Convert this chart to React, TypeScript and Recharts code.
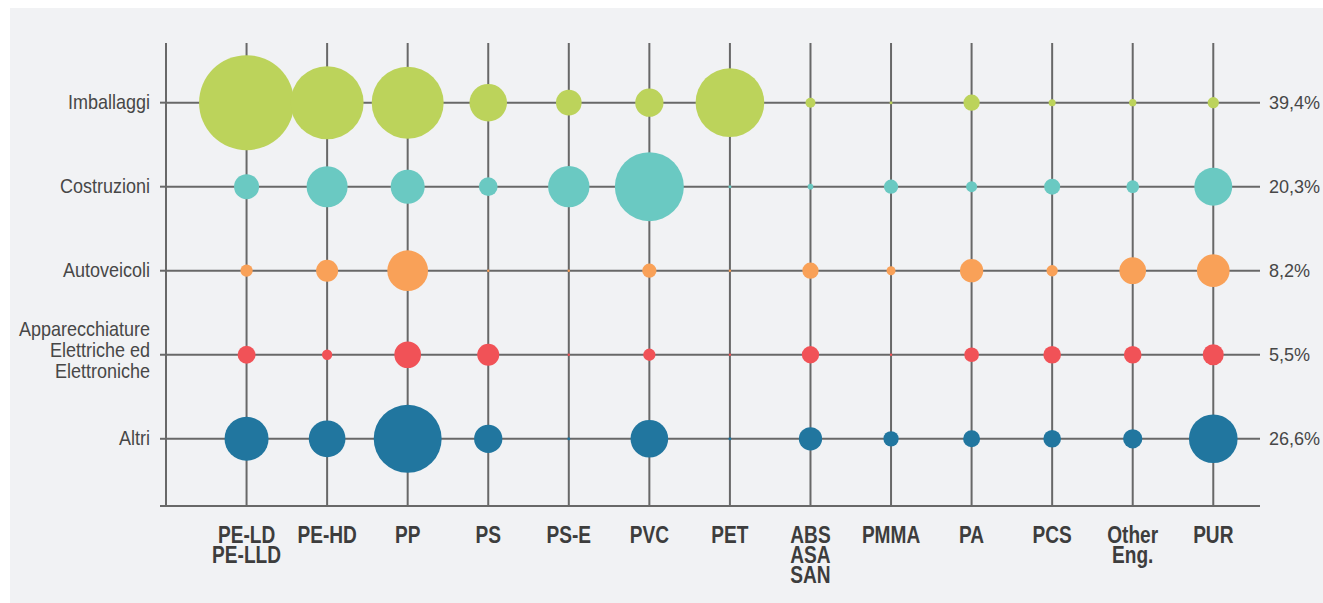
import React from 'react';
import { ScatterChart, Scatter, XAxis, YAxis, ZAxis, CartesianGrid } from 'recharts';

// Categories (plastic types) on the x axis
const materials = [
  'PE-LD\nPE-LLD', 'PE-HD', 'PP', 'PS', 'PS-E', 'PVC', 'PET',
  'ABS\nASA\nSAN', 'PMMA', 'PA', 'PCS', 'Other\nEng.', 'PUR',
];

// Sectors (rows) on the y axis, top to bottom
const sectors = [
  'Imballaggi',
  'Costruzioni',
  'Autoveicoli',
  'Apparecchiature\nElettriche ed\nElettroniche',
  'Altri',
];

// Share of each sector (right labels)
const shares = ['39,4%', '20,3%', '8,2%', '5,5%', '26,6%'];

// Relative bubble sizes (area) per sector, one value per material
const imballaggi = [90.3, 53.3, 51.8, 14.1, 6.6, 8.0, 47.2, 1.0, 0.09, 2.66, 0.49, 0.53, 1.28];
const costruzioni = [6.25, 16.8, 11.6, 3.5, 17.1, 47.6, 0.09, 0.32, 2.04, 1.21, 2.56, 1.61, 14.4];
const autoveicoli = [1.51, 4.84, 16.6, 0.06, 0.06, 2.04, 0.06, 2.66, 0.81, 5.43, 1.28, 7.13, 10.7];
const apparecchiature = [3.24, 1.06, 7.13, 4.84, 0.06, 1.51, 0.06, 2.99, 0.06, 2.16, 3.13, 3.13, 4.41];
const altri = [19.4, 13.5, 46.2, 8.0, 0.09, 14.2, 0.09, 5.43, 2.34, 2.89, 3.13, 3.72, 23.7];

const sectorValues = [imballaggi, costruzioni, autoveicoli, apparecchiature, altri];
const colors = ['#bcd35b', '#6ac9c2', '#f9a158', '#f15257', '#21769f'];

const FONT = '"Liberation Sans", Arial, sans-serif';
const GRID = '#686868';

const levelOf = (i: number) => sectors.length - i;
const xTicks = materials.map((_, i) => i + 1);
const yTicks = [0.2, ...sectors.map((_, i) => levelOf(i)).reverse()];
const rightTicks = sectors.map((_, i) => levelOf(i)).reverse();

const seriesData = sectorValues.map((vals, si) =>
  vals.map((v, mi) => ({ x: mi + 1, y: levelOf(si), z: v }))
);

const XTick = (props: any) => {
  const { x, y, payload } = props;
  const label = materials[Math.round(payload.value) - 1];
  if (!label) return null;
  const lines = label.split('\n');
  return (
    <g transform={`translate(${x},${y})`}>
      {lines.map((l, i) => (
        <text
          key={i}
          transform={`translate(0,${37 + i * 20}) scale(0.83,1)`}
          textAnchor="middle"
          fontFamily={FONT}
          fontWeight="bold"
          fontSize={23}
          fill="#3d3d3d"
        >
          {l}
        </text>
      ))}
    </g>
  );
};

const LeftTick = (props: any) => {
  const { x, y, payload } = props;
  const idx = sectors.length - Math.round(payload.value);
  if (payload.value < 0.5 || idx < 0 || idx >= sectors.length) return null;
  const lines = sectors[idx].split('\n');
  const n = lines.length;
  const start = n > 1 ? 2.5 - (n - 1) * 10.5 : 6;
  return (
    <g transform={`translate(${x},${y})`}>
      {lines.map((l, i) => (
        <text
          key={i}
          transform={`translate(0,${start + i * 21}) scale(0.9,1)`}
          textAnchor="end"
          fontFamily={FONT}
          fontSize={20}
          fill="#474747"
        >
          {l}
        </text>
      ))}
    </g>
  );
};

const RightTick = (props: any) => {
  const { x, y, payload } = props;
  const idx = sectors.length - Math.round(payload.value);
  if (idx < 0 || idx >= shares.length) return null;
  return (
    <text
      transform={`translate(${x},${y + 6.5}) scale(0.95,1)`}
      textAnchor="start"
      fontFamily={FONT}
      fontSize={19}
      fill="#474747"
    >
      {shares[idx]}
    </text>
  );
};

export default function App() {
  return (
    <div
      style={{
        position: 'absolute',
        left: 10,
        top: 8,
        width: 1313,
        height: 595,
        background: '#f1f2f4',
      }}
    >
      <ScatterChart width={1313} height={595} margin={{ top: 35, right: 0, bottom: 0, left: 0 }}>
        <CartesianGrid yAxisId="l" stroke={GRID} strokeWidth={2} syncWithTicks />
        <XAxis
          type="number"
          dataKey="x"
          domain={[0, 13.58]}
          ticks={xTicks}
          interval={0}
          height={97}
          tickSize={0}
          tickMargin={0}
          tickLine={false}
          axisLine={{ stroke: GRID, strokeWidth: 2 }}
          tick={<XTick />}
          allowDataOverflow
        />
        <YAxis
          yAxisId="l"
          type="number"
          dataKey="y"
          domain={[0.2, 5.71]}
          ticks={yTicks}
          interval={0}
          width={156}
          tickSize={6}
          tickMargin={10}
          tickLine={{ stroke: GRID, strokeWidth: 2 }}
          axisLine={{ stroke: GRID, strokeWidth: 2 }}
          tick={<LeftTick />}
          allowDataOverflow
        />
        <YAxis
          yAxisId="r"
          orientation="right"
          type="number"
          domain={[0.2, 5.71]}
          ticks={rightTicks}
          interval={0}
          width={63}
          tickSize={0}
          tickMargin={9}
          tickLine={false}
          axisLine={false}
          tick={<RightTick />}
          allowDataOverflow
        />
        <ZAxis type="number" dataKey="z" domain={[0, 100]} range={[0, 7854]} />
        {seriesData.map((d, i) => (
          <Scatter
            key={sectors[i]}
            yAxisId="l"
            data={d}
            fill={colors[i]}
            isAnimationActive={false}
          />
        ))}
      </ScatterChart>
    </div>
  );
}
